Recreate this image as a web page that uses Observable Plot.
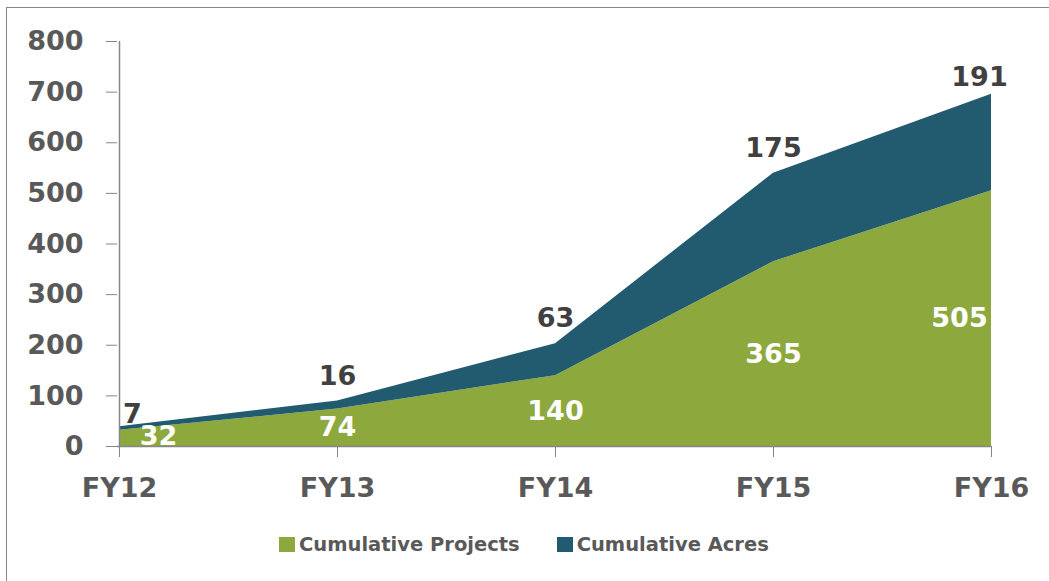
<!DOCTYPE html>
<html>
<head>
<meta charset="utf-8">
<script src="https://cdn.jsdelivr.net/npm/d3@7"></script>
<script src="https://cdn.jsdelivr.net/npm/@observablehq/plot@0.6"></script>
<style>
  html, body { margin: 0; padding: 0; background: #fff; width: 1049px; height: 581px; overflow: hidden; }
  #frame { position: absolute; left: 6px; top: 7px; width: 1100px; height: 620px;
           border-left: 1px solid #8c8682; border-top: 1px solid #8c8682; }
  #chart { position: absolute; left: 0; top: 0; }
  #legend { position: absolute; left: 279px; top: 533px; display: flex; align-items: center;
            font-family: "DejaVu Sans", Verdana, sans-serif; font-weight: bold; font-size: 19.5px; color: #595959; }
  .item { display: flex; align-items: center; }
  .item + .item { margin-left: 37px; }
  .sw { width: 16px; height: 15px; margin-right: 4px; }
</style>
</head>
<body>
<div id="frame"></div>
<div id="chart"></div>
<div id="legend"></div>
<script>
const years = ["FY12", "FY13", "FY14", "FY15", "FY16"];
const projects = [32, 74, 140, 365, 505];
const acres = [7, 16, 63, 175, 191];
const seriesNames = ["Cumulative Projects", "Cumulative Acres"];
const seriesColors = ["#8da93e", "#225b70"];
const yTicks = [0, 100, 200, 300, 400, 500, 600, 700, 800];

const rows = years.flatMap((year, i) => [
  {year, series: seriesNames[0], value: projects[i]},
  {year, series: seriesNames[1], value: acres[i]}
]);
const labels = years.map((year, i) => ({
  year, i, projects: projects[i], acres: acres[i], top: projects[i] + acres[i]
}));
const last = years.length - 1;
const FONT = "DejaVu Sans, Verdana, sans-serif";

const plot = Plot.plot({
  width: 1049,
  height: 515,
  marginLeft: 117,
  marginRight: 57,
  marginTop: 41,
  marginBottom: 69,
  style: {fontFamily: FONT, fontWeight: "bold", fontSize: "27px", color: "#595959", background: "transparent"},
  x: {type: "point", domain: years, padding: 0, label: null},
  y: {domain: [0, 800], label: null},
  color: {domain: seriesNames, range: seriesColors},
  marks: [
    Plot.areaY(rows, {x: "year", y: "value", fill: "series", order: seriesNames}),
    Plot.ruleX([years[0]], {stroke: "#868686", strokeWidth: 1.5}),
    Plot.ruleY([0], {stroke: "#868686", strokeWidth: 1.5}),
    Plot.axisY({ticks: yTicks, tickSize: 11, tickPadding: 23, stroke: "#868686", fontSize: 27, label: null, tickFormat: d => String(d)}),
    Plot.axisX({tickSize: 11, tickPadding: 20, stroke: "#868686", fontSize: 27, label: null}),
    // Cumulative Acres labels (above stack top)
    Plot.text(labels, {filter: d => d.i > 0 && d.i < last, x: "year", y: "top", text: "acres",
      dy: -25, fill: "#404040", fontSize: 27, fontWeight: "bold"}),
    Plot.text(labels, {filter: d => d.i === 0, x: "year", y: "top", text: "acres",
      dx: 13, dy: -12, fill: "#404040", fontSize: 27, fontWeight: "bold"}),
    Plot.text(labels, {filter: d => d.i === last, x: "year", y: "top", text: "acres",
      dx: -12, dy: -17, fill: "#404040", fontSize: 27, fontWeight: "bold"}),
    // Cumulative Projects labels (inside green area)
    Plot.text(labels, {filter: d => d.i > 0 && d.i < last, x: "year", y: d => d.projects / 2, text: "projects",
      fill: "white", fontSize: 27, fontWeight: "bold"}),
    Plot.text(labels, {filter: d => d.i === 0, x: "year", y: d => d.projects / 2, text: "projects",
      dx: 39, dy: -2, fill: "white", fontSize: 27, fontWeight: "bold"}),
    Plot.text(labels, {filter: d => d.i === last, x: "year", y: d => d.projects / 2, text: "projects",
      dx: -32, fill: "white", fontSize: 27, fontWeight: "bold"})
  ]
});
document.getElementById("chart").appendChild(plot);

const legend = document.getElementById("legend");
seriesNames.forEach((name, i) => {
  const item = document.createElement("div");
  item.className = "item";
  const sw = document.createElement("div");
  sw.className = "sw";
  sw.style.background = seriesColors[i];
  const t = document.createElement("span");
  t.textContent = name;
  item.appendChild(sw);
  item.appendChild(t);
  legend.appendChild(item);
});
</script>
</body>
</html>
